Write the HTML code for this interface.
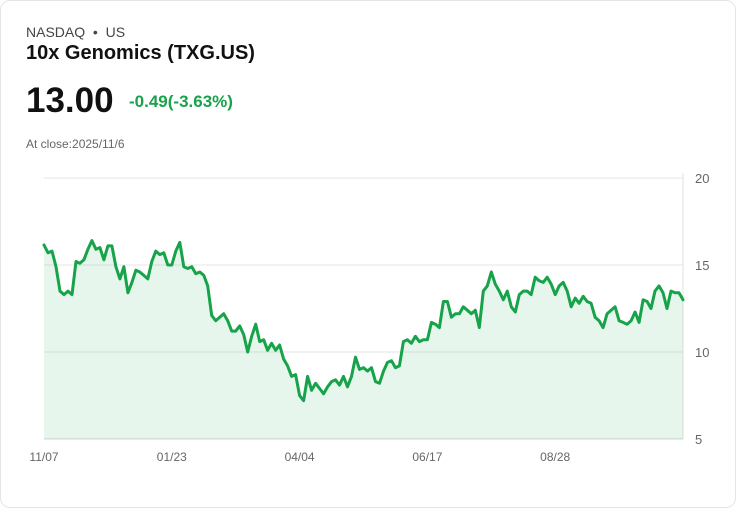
<!DOCTYPE html>
<html><head><meta charset="utf-8"><style>
body{margin:0;background:#fff;font-family:"Liberation Sans",sans-serif;}
.card{position:absolute;left:0;top:0;width:734px;height:506px;border:1px solid #e3e5e8;border-radius:10px;background:#fff;}
.t{position:absolute;white-space:nowrap;}
</style></head><body>
<div class="card">
<div class="t" style="left:25px;top:23px;font-size:14px;color:#444">NASDAQ &nbsp;•&nbsp; US</div>
<div class="t" style="left:25px;top:41px;font-size:20px;font-weight:bold;color:#111">10x Genomics (TXG.US)</div>
<div class="t" style="left:25px;top:80px;font-size:35px;font-weight:bold;color:#111">13.00</div>
<div class="t" style="left:128px;top:91px;font-size:17px;font-weight:bold;color:#16a34a">-0.49(-3.63%)</div>
<div class="t" style="left:25px;top:136px;font-size:12px;color:#666">At close:2025/11/6</div>
<svg id="chart" width="736" height="508" style="position:absolute;left:0;top:0"></svg>
</div>
<script>
const yTicks=[20,15,10,5];
const xLabels=["11/07","01/23","04/04","06/17","08/28"];
const xLabelIdx=[0,32,64,96,128];
const values=[16.15,15.7,15.8,14.9,13.5,13.3,13.5,13.3,15.2,15.1,15.3,15.9,16.4,15.9,16.0,15.3,16.1,16.1,14.9,14.2,14.9,13.4,14.0,14.7,14.6,14.4,14.2,15.2,15.8,15.6,15.7,15.0,15.0,15.8,16.3,14.9,14.8,14.9,14.5,14.6,14.4,13.8,12.1,11.8,12.0,12.2,11.8,11.2,11.2,11.5,11.0,10.0,10.9,11.6,10.6,10.7,10.1,10.5,10.1,10.4,9.6,9.2,8.6,8.7,7.5,7.2,8.6,7.8,8.2,7.9,7.6,8.0,8.3,8.4,8.1,8.6,8.0,8.6,9.7,9.0,9.1,8.9,9.1,8.3,8.2,8.9,9.4,9.5,9.1,9.2,10.6,10.7,10.5,10.9,10.6,10.7,10.7,11.7,11.6,11.4,12.9,12.9,12.0,12.2,12.2,12.6,12.4,12.2,12.4,11.4,13.5,13.8,14.6,13.9,13.5,13.0,13.5,12.6,12.3,13.3,13.5,13.5,13.3,14.3,14.1,14.0,14.3,13.9,13.3,13.8,14.0,13.5,12.6,13.1,12.8,13.2,12.9,12.8,12.0,11.8,11.4,12.2,12.4,12.6,11.8,11.7,11.6,11.8,12.3,11.7,13.0,12.9,12.5,13.5,13.8,13.4,12.5,13.5,13.4,13.4,13.0];
const NS="http://www.w3.org/2000/svg";
const svg=document.getElementById('chart');
const X0=43,X1=682,Y0=438,Y1=177,vMin=5,vMax=20;
const xs=i=>X0+(X1-X0)*i/(values.length-1);
const ys=v=>Y0-(v-vMin)/(vMax-vMin)*(Y0-Y1);
function mk(tag,attrs){const e=document.createElementNS(NS,tag);for(const k in attrs)e.setAttribute(k,attrs[k]);svg.appendChild(e);return e;}
yTicks.forEach(v=>{
  const l=mk('line',{x1:X0,x2:X1,y1:ys(v),y2:ys(v),stroke:v===5?'#d4d4d4':'#e6e6e6','stroke-width':1});
  
  
  const t=mk('text',{x:694,y:ys(v)+5,'font-size':13,fill:'#666','font-family':'Liberation Sans, sans-serif'});
  t.textContent=v;
  
  
});
const ax=mk('line',{x1:X1,x2:X1,y1:Y1-5,y2:Y0,stroke:'#e0e0e0','stroke-width':1});


xLabels.forEach((s,k)=>{
  const t=mk('text',{x:xs(xLabelIdx[k]),y:460,'font-size':12,fill:'#666','text-anchor':'middle','font-family':'Liberation Sans, sans-serif'});
  t.textContent=s;
  
  
});
let d=values.map((v,i)=>(i?'L':'M')+xs(i).toFixed(1)+','+ys(v).toFixed(1)).join('');
const area=mk('path',{d:d+'L'+X1+','+Y0+'L'+X0+','+Y0+'Z',fill:'rgba(22,163,74,0.1)'});


const line=mk('path',{d:d,fill:'none',stroke:'#16a34a','stroke-width':3,'stroke-linejoin':'round','stroke-linecap':'round'});


</script>
</body></html>
